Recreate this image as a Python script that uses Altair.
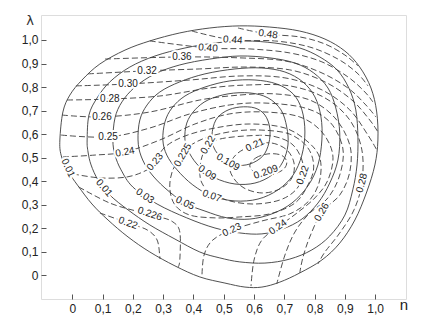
import altair as alt
import pandas as pd

# ---- axis ticks ----
x_ticks = [0.0, 0.1, 0.2, 0.3, 0.4, 0.5, 0.6, 0.7, 0.8, 0.9, 1.0]
y_ticks = [0.0, 0.1, 0.2, 0.3, 0.4, 0.5, 0.6, 0.7, 0.8, 0.9, 1.0]

# ---- solid contours (closed loops), points (n, lambda) ----
solid_outer = [(-0.041,0.575),(-0.031,0.694),(-0.008,0.766),(0.032,0.830),(0.091,0.898),(0.174,0.957),
    (0.256,0.996),(0.355,1.030),(0.454,1.051),(0.553,1.060),(0.652,1.055),(0.751,1.038),(0.834,1.004),
    (0.900,0.953),(0.949,0.885),(0.986,0.796),(1.005,0.694),(1.009,0.575),(0.999,0.469),(0.972,0.354),
    (0.933,0.235),(0.883,0.137),(0.824,0.065),(0.751,0.010),(0.685,-0.029),(0.626,-0.050),(0.570,-0.050),
    (0.504,-0.033),(0.421,-0.007),(0.339,0.040),(0.256,0.099),(0.184,0.163),(0.118,0.235),(0.065,0.303),
    (0.019,0.380),(-0.017,0.448),(-0.037,0.511)]
solid_001 = [(0.049,0.575),(0.055,0.681),(0.082,0.754),(0.124,0.822),(0.190,0.885),(0.273,0.932),
    (0.372,0.966),(0.471,0.987),(0.570,0.996),(0.669,0.987),(0.751,0.966),(0.817,0.928),(0.874,0.873),
    (0.913,0.796),(0.936,0.703),(0.943,0.584),(0.940,0.469),(0.926,0.363),(0.900,0.256),(0.850,0.167),
    (0.791,0.108),(0.718,0.069),(0.636,0.052),(0.553,0.057),(0.487,0.074),(0.421,0.099),(0.339,0.154),
    (0.256,0.214),(0.184,0.278),(0.124,0.341),(0.085,0.405),(0.062,0.469),(0.052,0.524)]
solid_003 = [(0.134,0.575),(0.141,0.669),(0.164,0.737),(0.207,0.800),(0.273,0.856),(0.355,0.894),
    (0.454,0.919),(0.553,0.932),(0.652,0.924),(0.735,0.902),(0.797,0.860),(0.844,0.796),(0.870,0.711),
    (0.883,0.605),(0.877,0.490),(0.850,0.392),(0.811,0.307),(0.758,0.239),(0.695,0.197),(0.626,0.176),
    (0.553,0.180),(0.471,0.201),(0.378,0.244),(0.280,0.303),(0.200,0.375),(0.161,0.448),(0.141,0.511)]
solid_005 = [(0.217,0.575),(0.223,0.660),(0.247,0.724),(0.289,0.779),(0.355,0.822),(0.438,0.856),
    (0.537,0.877),(0.626,0.881),(0.702,0.864),(0.761,0.822),(0.801,0.758),(0.821,0.673),(0.824,0.575),
    (0.811,0.469),(0.778,0.380),(0.725,0.307),(0.659,0.261),(0.586,0.239),(0.511,0.244),(0.438,0.273),
    (0.372,0.307),(0.306,0.371),(0.256,0.439),(0.227,0.507)]
solid_007 = [(0.299,0.575),(0.306,0.652),(0.329,0.711),(0.372,0.762),(0.438,0.800),(0.520,0.826),
    (0.603,0.830),(0.675,0.813),(0.729,0.771),(0.758,0.703),(0.768,0.609),(0.758,0.511),(0.729,0.426),
    (0.679,0.363),(0.613,0.324),(0.537,0.316),(0.461,0.337),(0.398,0.384),(0.346,0.448),(0.312,0.511)]
solid_009 = [(0.372,0.575),(0.378,0.647),(0.405,0.703),(0.448,0.745),(0.514,0.771),(0.586,0.775),
    (0.646,0.754),(0.689,0.703),(0.708,0.630),(0.712,0.554),(0.695,0.482),(0.659,0.426),(0.603,0.392),
    (0.537,0.388),(0.471,0.414),(0.421,0.460),(0.388,0.516)]
solid_0109 = [(0.461,0.596),(0.474,0.660),(0.507,0.698),(0.553,0.715),(0.603,0.711),(0.636,0.681),
    (0.652,0.626),(0.649,0.562),(0.629,0.507),(0.586,0.473),(0.537,0.469),(0.494,0.499),(0.468,0.541)]

# ---- dashed contours, closed loops ----
dash_0209 = [(0.586,0.465),(0.606,0.499),(0.646,0.516),(0.689,0.511),(0.708,0.482),(0.695,0.448),
    (0.652,0.426),(0.609,0.431)]
dash_021 = [(0.520,0.469),(0.547,0.520),(0.603,0.554),(0.659,0.562),(0.708,0.533),(0.732,0.477),
    (0.725,0.414),(0.685,0.367),(0.626,0.350),(0.567,0.371),(0.530,0.418)]
dash_022 = [(0.421,0.439),(0.428,0.503),(0.448,0.554),(0.487,0.579),(0.570,0.592),(0.659,0.592),
    (0.725,0.558),(0.758,0.490),(0.761,0.426),(0.738,0.363),(0.685,0.320),(0.603,0.303),(0.520,0.316),
    (0.454,0.354),(0.428,0.392)]
dash_0225 = [(0.365,0.511),(0.388,0.550),(0.448,0.588),(0.537,0.613),(0.626,0.617),(0.718,0.600),
    (0.778,0.541),(0.797,0.460),(0.778,0.384),(0.735,0.307),(0.652,0.261),(0.553,0.248),(0.471,0.244),
    (0.388,0.256),(0.339,0.299),(0.322,0.371),(0.332,0.448)]

# ---- dashed contours, open curves ----
dash_048 = [(0.547,1.051),(0.646,1.025),(0.751,1.013),(0.834,0.983),(0.900,0.936),(0.943,0.890)]
dash_044 = [(0.395,1.038),(0.530,1.000),(0.669,0.996),(0.784,0.970),(0.877,0.919),(0.940,0.860),(0.976,0.805)]
dash_040 = [(0.256,0.996),(0.448,0.966),(0.586,0.962),(0.718,0.945),(0.824,0.907),(0.910,0.843),
    (0.966,0.779),(0.992,0.737)]
dash_036 = [(0.108,0.919),(0.362,0.928),(0.553,0.924),(0.702,0.911),(0.817,0.864),(0.910,0.796),
    (0.969,0.724),(1.002,0.673)]
dash_032 = [(0.052,0.856),(0.247,0.869),(0.421,0.877),(0.570,0.885),(0.718,0.873),(0.834,0.822),
    (0.923,0.745),(0.982,0.660),(1.009,0.609)]
dash_030 = [(0.012,0.805),(0.184,0.813),(0.388,0.830),(0.553,0.847),(0.702,0.839),(0.824,0.788),
    (0.916,0.703),(0.976,0.596),(1.005,0.533)]
dash_028 = [(-0.017,0.745),(0.124,0.749),(0.289,0.762),(0.454,0.796),(0.586,0.809),(0.718,0.805),
    (0.834,0.754),(0.916,0.660),(0.956,0.533),(0.956,0.392),(0.930,0.278),(0.883,0.180),(0.834,0.099),
    (0.811,0.048)]
dash_026 = [(-0.034,0.681),(0.098,0.673),(0.256,0.694),(0.421,0.745),(0.553,0.766),(0.669,0.771),
    (0.784,0.745),(0.867,0.669),(0.916,0.554),(0.916,0.439),(0.883,0.341),(0.824,0.269),(0.784,0.163),
    (0.761,0.074),(0.751,0.010)]
dash_025 = [(-0.037,0.596),(0.118,0.588),(0.256,0.626),(0.388,0.686),(0.520,0.724),(0.636,0.732),
    (0.768,0.711),(0.850,0.652),(0.893,0.541),(0.883,0.426),(0.844,0.329),(0.781,0.261),(0.735,0.184),
    (0.702,0.086),(0.675,-0.037)]
dash_024 = [(-0.031,0.503),(0.075,0.511),(0.174,0.524),(0.289,0.575),(0.405,0.643),(0.520,0.686),
    (0.636,0.694),(0.751,0.673),(0.824,0.609),(0.860,0.511),(0.844,0.405),(0.801,0.329),(0.742,0.265),
    (0.679,0.205),(0.626,0.150),(0.600,0.065),(0.590,-0.046)]
dash_023 = [(0.002,0.431),(0.091,0.414),(0.181,0.418),(0.247,0.448),(0.273,0.482),(0.306,0.545),
    (0.372,0.592),(0.471,0.626),(0.586,0.643),(0.702,0.626),(0.778,0.567),(0.817,0.499),(0.817,0.405),
    (0.784,0.320),(0.718,0.261),(0.626,0.231),(0.527,0.193),(0.464,0.150),(0.435,0.086),(0.428,-0.007)]
dash_0226 = [(0.022,0.375),(0.124,0.307),(0.223,0.269),(0.289,0.248),(0.332,0.227),(0.355,0.184),
    (0.355,0.065),(0.349,0.035)]
dash_022_low = [(0.091,0.265),(0.184,0.222),(0.247,0.193),(0.280,0.150),(0.289,0.078),(0.289,0.074)]

# ---- contour labels: text, n, lambda, angle ----
label_text = ["0.01", "0.01", "0.03", "0.05", "0.07", "0.09", "0.109",
              "0.48", "0.44", "0.40", "0.36", "0.32", "0.30", "0.28", "0.26", "0.25", "0.24",
              "0.23", "0.225", "0.22", "0.21", "0.209", "0.23", "0.24", "0.26", "0.28", "0.22",
              "0.226", "0.22"]
label_n = [-0.014, 0.105, 0.240, 0.372, 0.461, 0.445, 0.514,
           0.646, 0.530, 0.448, 0.362, 0.247, 0.184, 0.124, 0.098, 0.118, 0.174,
           0.273, 0.365, 0.448, 0.603, 0.639, 0.527, 0.679, 0.824, 0.956, 0.761,
           0.256, 0.184]
label_l = [0.456, 0.371, 0.337, 0.307, 0.337, 0.435, 0.481,
           1.025, 1.000, 0.966, 0.928, 0.869, 0.813, 0.749, 0.673, 0.588, 0.524,
           0.482, 0.511, 0.554, 0.554, 0.439, 0.193, 0.205, 0.269, 0.392, 0.426,
           0.261, 0.222]
label_angle = [65, 50, 35, 25, 20, 35, 30,
               8, 5, 5, 0, 0, 0, 0, 0, 0, 350,
               310, 300, 300, 335, 340, 335, 325, 300, 285, 290,
               18, 20]

# ---- build tables ----
def table(curves):
    rows = []
    for name, pts in curves.items():
        for i, (n, l) in enumerate(pts):
            rows.append({"curve": name, "i": i, "n": n, "l": l})
    return pd.DataFrame(rows)

solid_df = table({"outer": solid_outer, "s001": solid_001, "s003": solid_003, "s005": solid_005,
                  "s007": solid_007, "s009": solid_009, "s0109": solid_0109})
dash_closed_df = table({"d0209": dash_0209, "d021": dash_021, "d022": dash_022, "d0225": dash_0225})
dash_open_df = table({"d048": dash_048, "d044": dash_044, "d040": dash_040, "d036": dash_036,
                      "d032": dash_032, "d030": dash_030, "d028": dash_028, "d026": dash_026,
                      "d025": dash_025, "d024": dash_024, "d023": dash_023, "d0226": dash_0226,
                      "d022low": dash_022_low})
labels_df = pd.DataFrame({"text": label_text, "n": label_n, "l": label_l, "angle": label_angle})

label_expr = "datum.value == 0 ? '0' : replace(format(datum.value, '.1f'), '.', ',')"
xscale = alt.Scale(domain=[-0.1033, 1.1017], nice=False, zero=False)
yscale = alt.Scale(domain=[-0.1007, 1.1062], nice=False, zero=False)
xaxis = alt.Axis(values=x_ticks, labelExpr=label_expr, tickSize=5, offset=-5, domain=False,
                 grid=False, labelPadding=4, labelFontSize=12, labelFont="Liberation Sans",
                 labelColor="#222222", tickColor="#555555", title=None)
yaxis = alt.Axis(values=y_ticks, labelExpr=label_expr, tickSize=5, offset=-5, domain=False,
                 grid=False, labelPadding=3, labelFontSize=12, labelFont="Liberation Sans",
                 labelColor="#222222", tickColor="#555555", title=None)
X = alt.X("n:Q", scale=xscale, axis=xaxis)
Y = alt.Y("l:Q", scale=yscale, axis=yaxis)

line_color = "#3c3c3c"
solid = alt.Chart(solid_df).mark_line(interpolate="cardinal-closed", color=line_color,
                                       strokeWidth=0.9).encode(
    x=X, y=Y, detail="curve:N", order="i:Q")
dash_closed = alt.Chart(dash_closed_df).mark_line(interpolate="cardinal-closed", color=line_color,
                                                  strokeWidth=0.9, strokeDash=[6, 3]).encode(
    x=X, y=Y, detail="curve:N", order="i:Q")
dash_open = alt.Chart(dash_open_df).mark_line(interpolate="cardinal", color=line_color,
                                              strokeWidth=0.9, strokeDash=[6, 3]).encode(
    x=X, y=Y, detail="curve:N", order="i:Q")

halo = alt.Chart(labels_df).mark_text(font="Liberation Sans", fontSize=10, color="white",
                                      stroke="white", strokeWidth=4).encode(
    x=X, y=Y, text="text:N", angle=alt.Angle("angle:Q", scale=None))
texts = alt.Chart(labels_df).mark_text(font="Liberation Sans", fontSize=10, color="#222222").encode(
    x=X, y=Y, text="text:N", angle=alt.Angle("angle:Q", scale=None))

titles_df = pd.DataFrame({"t": ["λ", "n"]})
lam = alt.Chart(titles_df[titles_df.t == "λ"]).mark_text(font="DejaVu Sans", fontSize=13,
                                                         color="#333333").encode(
    x=alt.value(-11), y=alt.value(6), text="t:N")
nlab = alt.Chart(titles_df[titles_df.t == "n"]).mark_text(font="Liberation Sans", fontSize=15,
                                                          color="#222222").encode(
    x=alt.value(363), y=alt.value(290), text="t:N")

chart = alt.layer(solid, dash_closed, dash_open, halo, texts, lam, nlab).properties(
    width=365, height=284,
    autosize=alt.AutoSizeParams(type="none"),
    padding={"left": 41, "top": 15, "right": 32, "bottom": 35},
).configure_view(stroke="#8a8a8a", strokeWidth=1).configure(background="white")

chart.save("out.html", embed_options={"renderer": "svg", "actions": False})
